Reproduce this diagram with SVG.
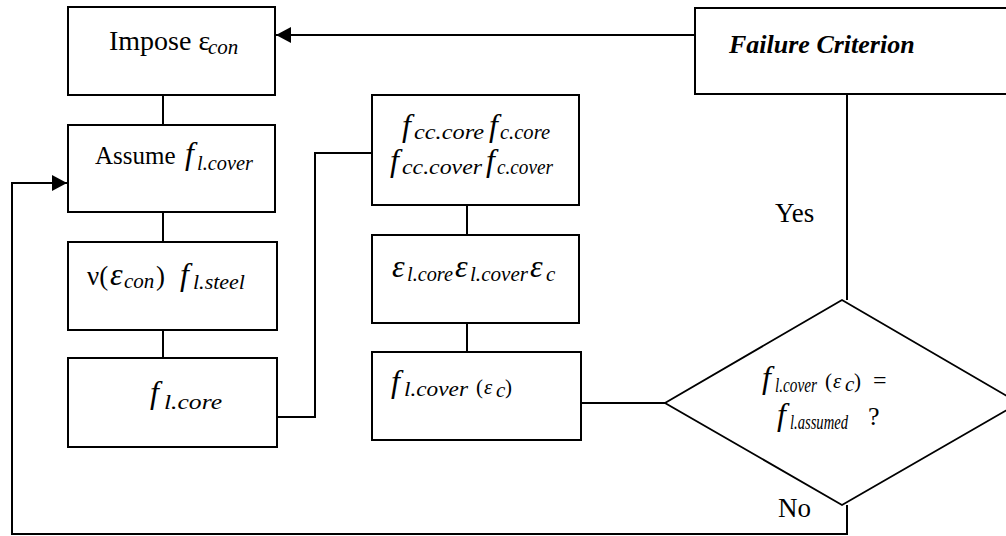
<svg xmlns="http://www.w3.org/2000/svg" width="1006" height="536" viewBox="0 0 1006 536">
<style>
.box{fill:#fff;stroke:#000;stroke-width:2}
.ln{fill:none;stroke:#000;stroke-width:2}
text{font-family:"Liberation Serif","Times New Roman",serif;fill:#000;font-size:27px}
.m{font-style:italic;font-size:32px}
.s{font-style:italic;font-size:21px}
.p{font-size:21px}
.b{font-style:italic;font-weight:bold;font-size:26px}
</style>
<defs>
<marker id="ah" markerUnits="userSpaceOnUse" markerWidth="16" markerHeight="16" refX="15" refY="8" orient="auto">
<path d="M0,0 L15,8 L0,16 Z" fill="#000"/>
</marker>
</defs>
<g id="connectors">
<line class="ln" x1="695" y1="35" x2="276" y2="35" marker-end="url(#ah)"/>
<line class="ln" x1="163" y1="95" x2="163" y2="125"/>
<line class="ln" x1="163" y1="212" x2="163" y2="242"/>
<line class="ln" x1="163" y1="330" x2="163" y2="358"/>
<polyline class="ln" points="277,417 315,417 315,153 372,153"/>
<line class="ln" x1="467" y1="205" x2="467" y2="235"/>
<line class="ln" x1="467" y1="323" x2="467" y2="352"/>
<line class="ln" x1="581" y1="403" x2="665" y2="403"/>
<line class="ln" x1="847" y1="94" x2="847" y2="300"/>
<polyline class="ln" points="847,505 847,534 12,534 12,183 67,183" marker-end="url(#ah)"/>
<text x="775" y="222">Yes</text>
<text x="778" y="517">No</text>
</g>
<g id="impose">
<rect class="box" x="68" y="7" width="207" height="88"/>
<text y="50"><tspan x="109" font-size="28">Impose ε</tspan><tspan class="s" x="208" y="54">con</tspan></text>
</g>
<g id="failure">
<rect class="box" x="695" y="8" width="330" height="86"/>
<text class="b" x="729" y="53">Failure Criterion</text>
</g>
<g id="assume">
<rect class="box" x="68" y="125" width="207" height="87"/>
<text y="164"><tspan x="95" font-size="25">Assume</tspan><tspan class="m" x="185">f</tspan><tspan class="s" x="197" y="170" textLength="56" lengthAdjust="spacingAndGlyphs">l.cover</tspan></text>
</g>
<g id="nu">
<rect class="box" x="68" y="242" width="209" height="88"/>
<text y="285"><tspan x="87">ν(</tspan><tspan class="m" x="110" font-size="29">ε</tspan><tspan class="s" x="124" y="288">con</tspan><tspan x="156" y="285">)</tspan><tspan class="m" x="180">f</tspan><tspan class="s" x="193" y="289" textLength="52" lengthAdjust="spacingAndGlyphs">l.steel</tspan></text>
</g>
<g id="flcore">
<rect class="box" x="68" y="358" width="209" height="89"/>
<text y="403"><tspan class="m" x="150" font-size="34">f</tspan><tspan class="s" x="164" y="409" font-size="22" textLength="58" lengthAdjust="spacingAndGlyphs">l.core</tspan></text>
</g>
<g id="fcc">
<rect class="box" x="372" y="95" width="207" height="110"/>
<text y="136"><tspan class="m" x="402">f</tspan><tspan class="s" x="414" y="139" textLength="70" lengthAdjust="spacingAndGlyphs">cc.core</tspan><tspan class="m" x="489" y="136">f</tspan><tspan class="s" x="500" y="139" textLength="50" lengthAdjust="spacingAndGlyphs">c.core</tspan></text>
<text y="171"><tspan class="m" x="390">f</tspan><tspan class="s" x="402" y="174" textLength="80" lengthAdjust="spacingAndGlyphs">cc.cover</tspan><tspan class="m" x="486" y="171">f</tspan><tspan class="s" x="497" y="174" textLength="56" lengthAdjust="spacingAndGlyphs">c.cover</tspan></text>
</g>
<g id="eps">
<rect class="box" x="372" y="235" width="207" height="88"/>
<text y="277"><tspan class="m" x="392" font-size="30">ε</tspan><tspan class="s" x="407" y="281" textLength="46" lengthAdjust="spacingAndGlyphs">l.core</tspan><tspan class="m" x="455" y="277" font-size="30">ε</tspan><tspan class="s" x="470" y="281" textLength="58" lengthAdjust="spacingAndGlyphs">l.cover</tspan><tspan class="m" x="530" y="277" font-size="30">ε</tspan><tspan class="s" x="546" y="281">c</tspan></text>
</g>
<g id="flcover">
<rect class="box" x="372" y="352" width="209" height="88"/>
<text y="392"><tspan class="m" x="391">f</tspan><tspan class="s" x="404" y="396" textLength="64" lengthAdjust="spacingAndGlyphs">l.cover</tspan><tspan class="p" x="476" y="394" font-size="22">(</tspan><tspan class="s" x="484" font-size="23">ε</tspan><tspan class="s" x="496" y="397" font-size="18">c</tspan><tspan class="p" x="505" y="394" font-size="22">)</tspan></text>
</g>
<g id="decision">
<polygon class="box" points="842,300 665,403 842,505 1019,403" style="stroke-width:1.8"/>
<text y="388"><tspan class="m" x="762">f</tspan><tspan class="s" x="775" y="392" textLength="42" lengthAdjust="spacingAndGlyphs">l.cover</tspan><tspan class="p" x="825" y="388" font-size="20">(</tspan><tspan class="s" x="833">ε</tspan><tspan class="s" x="845" y="391" font-size="17">c</tspan><tspan class="p" x="854" y="388" font-size="20">)</tspan><tspan x="873" font-size="24">=</tspan></text>
<text y="425"><tspan class="m" x="777">f</tspan><tspan class="s" x="790" y="429" textLength="58" lengthAdjust="spacingAndGlyphs">l.assumed</tspan><tspan x="868" y="425" font-size="26">?</tspan></text>
</g>
</svg>
